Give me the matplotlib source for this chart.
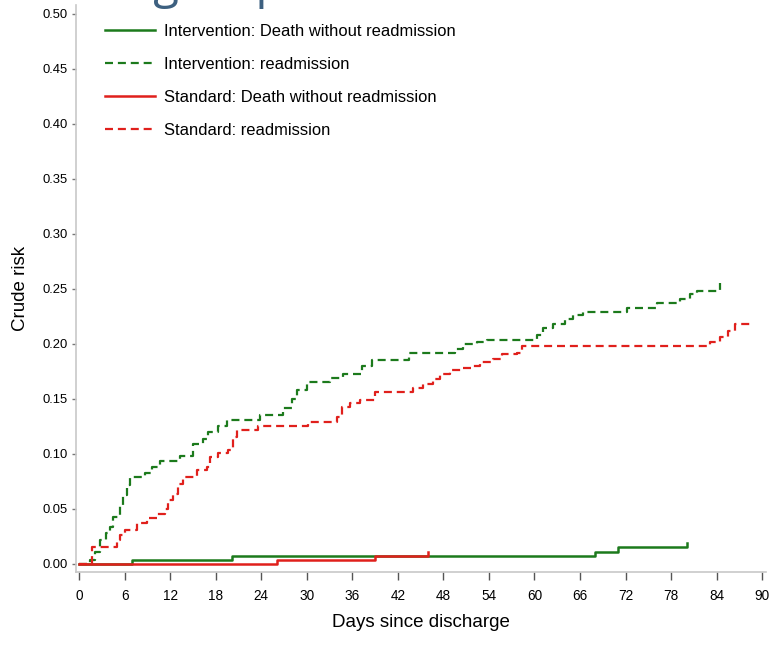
import matplotlib
matplotlib.use('Agg')
import matplotlib.pyplot as plt
from matplotlib import font_manager

# intervention group: readmission (dashed) and death without readmission (solid)
int_readm_days = [0, 1.45, 2.1, 2.8, 3.5, 4.1, 4.5, 5.4, 5.8, 6.3, 6.7, 8.7, 9.6, 10.7, 13.3, 15.0,
                  16.3, 17.0, 18.3, 19.5, 23.9, 26.9, 28.1, 28.7, 30.0, 33.1, 34.8, 37.3, 38.6,
                  43.5, 49.5, 50.6, 52.4, 53.8, 60.3, 61.1, 62.5, 64.0, 65.1, 66.4, 72.2, 76.2,
                  79.2, 80.5, 81.4, 84.5]
int_readm_risk = [0, 0.004, 0.011, 0.022, 0.028, 0.034, 0.043, 0.054, 0.063, 0.072, 0.079, 0.083,
                  0.088, 0.094, 0.098, 0.109, 0.114, 0.120, 0.125, 0.131, 0.135, 0.142, 0.150,
                  0.158, 0.165, 0.169, 0.173, 0.180, 0.185, 0.192, 0.195, 0.200, 0.202, 0.204,
                  0.208, 0.214, 0.218, 0.223, 0.226, 0.229, 0.233, 0.237, 0.241, 0.245, 0.248,
                  0.255]
int_death_days = [0, 7.0, 20.2, 68.0, 71.0, 80.1]
int_death_risk = [0, 0.0036, 0.0073, 0.011, 0.015, 0.019]

# standard group
std_readm_days = [0, 1.7, 5.0, 5.4, 6.1, 7.6, 9.0, 10.3, 11.3, 11.7, 12.4, 13.0, 13.7, 15.5, 16.9,
                  17.3, 18.3, 19.6, 20.3, 20.8, 23.6, 30.2, 34.0, 34.7, 35.7, 37.0, 39.0, 44.0,
                  45.3, 46.6, 47.6, 48.9, 50.6, 51.8, 52.8, 54.6, 55.7, 57.7, 58.4, 83.1, 84.5,
                  85.5, 86.4, 88.8]
std_readm_risk = [0, 0.015, 0.022, 0.026, 0.031, 0.037, 0.042, 0.045, 0.050, 0.058, 0.064, 0.073,
                  0.079, 0.085, 0.088, 0.097, 0.101, 0.104, 0.115, 0.122, 0.125, 0.129, 0.134,
                  0.143, 0.146, 0.149, 0.156, 0.160, 0.164, 0.168, 0.173, 0.176, 0.178, 0.180,
                  0.184, 0.186, 0.191, 0.192, 0.198, 0.202, 0.206, 0.212, 0.218, 0.218]
std_death_days = [0, 26.1, 39.0, 46.0]
std_death_risk = [0, 0.0036, 0.0073, 0.011]

x_ticks = list(range(0, 91, 6))
y_ticks = [0.00, 0.05, 0.10, 0.15, 0.20, 0.25, 0.30, 0.35, 0.40, 0.45, 0.50]

GREEN = '#1c7a1c'
RED = '#e0201c'

names = {f.name for f in font_manager.fontManager.ttflist}
narrow = 'Liberation Sans Narrow' if 'Liberation Sans Narrow' in names else 'Liberation Sans'
narrow_scale = 1.0 if narrow == 'Liberation Sans Narrow' else 0.85

fig = plt.figure(figsize=(7.69, 6.48), dpi=100)
ax = fig.add_axes([76 / 769, 76 / 648, 690 / 769, 567 / 648])

# slide title sitting above the crop, only its descenders reach into the picture
fig.text(284 / 769, 1 + 2 / 648, 'Treatment group', ha='right', va='baseline',
         fontsize=34, color='#3d6080', family='Open Sans')

ax.step(int_death_days, int_death_risk, where='post', color=GREEN, lw=1.8,
        label='Intervention: Death without readmission')
ax.step(int_readm_days, int_readm_risk, where='post', color=GREEN, lw=1.6, dashes=(3.6, 2.2),
        label='Intervention: readmission')
ax.step(std_death_days, std_death_risk, where='post', color=RED, lw=1.8,
        label='Standard: Death without readmission')
ax.step(std_readm_days, std_readm_risk, where='post', color=RED, lw=1.6, dashes=(3.6, 2.2),
        label='Standard: readmission')

ax.set_xlim(-0.4, 90.5)
ax.set_ylim(-0.0073, 0.508)
ax.set_xticks(x_ticks)
ax.set_yticks(y_ticks)
ax.set_xticklabels([str(t) for t in x_ticks], family=narrow, fontsize=11.5 * narrow_scale)
ax.set_yticklabels(['%.2f' % t for t in y_ticks], family=narrow, fontsize=11.0 * narrow_scale)
ax.tick_params(axis='x', length=6, width=1, color='#555555', pad=6)
ax.tick_params(axis='y', length=3, width=1, color='#777777', pad=3)

for side in ['top', 'right']:
    ax.spines[side].set_visible(False)
for side in ['left', 'bottom']:
    ax.spines[side].set_color('#c8c8c8')
    ax.spines[side].set_linewidth(1.2)

ax.set_xlabel('Days since discharge', family='Liberation Sans', fontsize=13.5, labelpad=8)
ax.set_ylabel('Crude risk', family='Liberation Sans', fontsize=13.5, labelpad=10)

ax.legend(loc='upper left', bbox_to_anchor=(105 / 769, 1 - 24 / 648),
          bbox_transform=fig.transFigure, frameon=False, borderpad=0, borderaxespad=0,
          handlelength=3.0, handletextpad=0.6, labelspacing=1.08,
          prop={'family': narrow, 'size': 14.0 * narrow_scale})

fig.savefig('out.png', dpi=100)
